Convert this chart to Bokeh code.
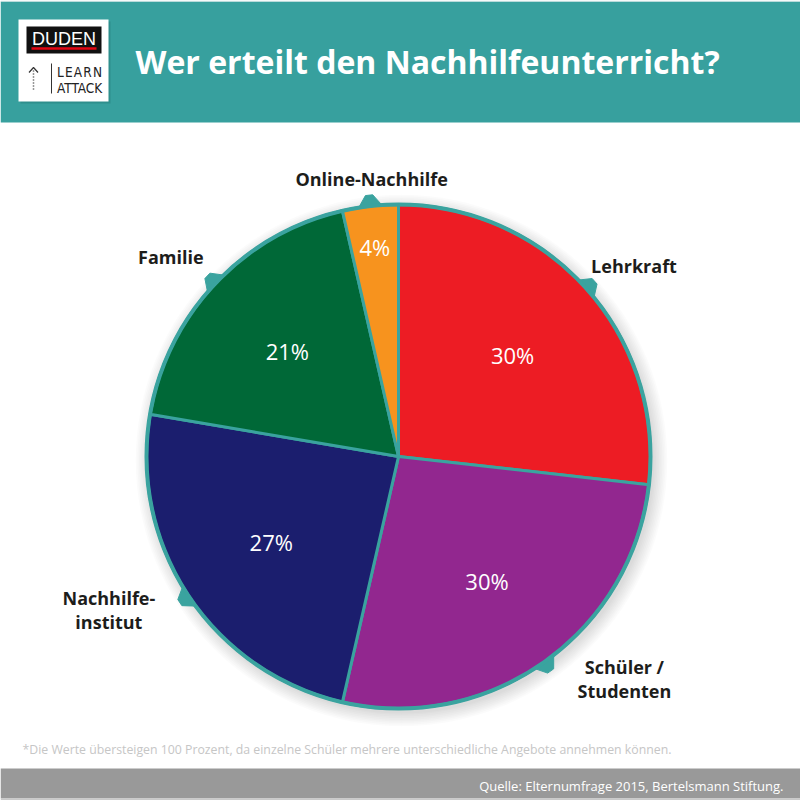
import numpy as np
from bokeh.plotting import figure
from bokeh.models import Range1d, ColumnDataSource
from bokeh.core.properties import value
from bokeh.embed import file_html
from bokeh.resources import INLINE

# ---- data -------------------------------------------------------------
categories = ["Lehrkraft", "Schüler /\nStudenten", "Nachhilfe-\ninstitut", "Familie", "Online-Nachhilfe"]
values = [30, 30, 27, 21, 4]
colors = ["#ED1C24", "#92278F", "#1B1E6E", "#006837", "#F7931E"]

title = "Wer erteilt den Nachhilfeunterricht?"
footnote = ("*Die Werte übersteigen 100 Prozent, da einzelne Schüler mehrere "
            "unterschiedliche Angebote annehmen können.")
source_note = "Quelle: Elternumfrage 2015, Bertelsmann Stiftung."

# ---- layout -----------------------------------------------------------
W = H = 800
TEAL = "#37A09E"
RING = "#3AA39F"


def sy(v):
    """top-down pixel row -> data y"""
    return H - v


CX, CY, R = 398, sy(456), 252
label_r = [303, 317, 328, 303, 279]          # distance of the category labels
label_nudge = [-2.8, 10.1, -5.75, 2.1, -0.9]  # small angular shifts (degrees)

total = sum(values)
cum = np.cumsum([0] + values)
start = np.pi / 2 - 2 * np.pi * cum[:-1] / total
end = np.pi / 2 - 2 * np.pi * cum[1:] / total
mid = (start + end) / 2
share = np.array(values) / total

pie = ColumnDataSource(dict(start=start, end=end, color=colors))

pr = np.where(share > 0.1, 153, 211)
pct = ColumnDataSource(dict(
    x=CX + pr * np.cos(mid), y=CY + pr * np.sin(mid),
    text=[f"{v}%" for v in values]))

la = mid + np.radians(label_nudge)
lbl = ColumnDataSource(dict(
    x=CX + np.array(label_r) * np.cos(la), y=CY + np.array(label_r) * np.sin(la),
    text=categories))

# small tabs on the rim pointing at each label
tab_xs, tab_ys = [], []
d = np.radians(3.2)
for m in mid:
    angs = [m - d, m - d * 0.25, m + d * 0.25, m + d]
    rads = [R - 3, R + 11, R + 11, R - 3]
    tab_xs.append([CX + r * np.cos(a) for r, a in zip(rads, angs)])
    tab_ys.append([CY + r * np.sin(a) for r, a in zip(rads, angs)])

p = figure(width=W, height=H, x_range=Range1d(0, W), y_range=Range1d(0, H),
           x_axis_type=None, y_axis_type=None, toolbar_location=None,
           output_backend="svg", min_border=0, outline_line_color=None,
           background_fill_color="white", border_fill_color="white")
p.grid.visible = False

# ---- header -----------------------------------------------------------
p.quad(left=0, right=W, bottom=sy(122), top=sy(1), fill_color=TEAL, line_color=None)
p.quad(left=0, right=W, bottom=sy(1), top=H, fill_color="#d8e8e8", line_color=None)

# logo
p.quad(left=20, right=110, bottom=sy(103), top=sy(21), fill_color="#1f6f6e",
       fill_alpha=0.35, line_color=None)
p.quad(left=18, right=108, bottom=sy(101), top=sy(19), fill_color="white", line_color=None)
p.quad(left=26, right=101, bottom=sy(53), top=sy(26), fill_color="#111111", line_color=None)
p.segment(x0=31, y0=sy(48), x1=96, y1=sy(48), line_color="#E30613", line_width=2.5)
p.text(x=[63.5], y=[sy(38)], text=["DUDEN"], text_color="white",
       text_font=value("Liberation Sans"), text_font_size="18px",
       text_align="center", text_baseline="middle")
p.segment(x0=51, y0=sy(63), x1=51, y1=sy(93), line_color="#333333", line_width=1)
p.segment(x0=33, y0=sy(70), x1=33, y1=sy(91), line_color="#333333",
          line_width=1.5, line_dash="1 2")
p.line(x=[28.5, 33, 37.5], y=[sy(72), sy(67), sy(72)], line_color="#333333", line_width=1.2)
p.text(x=[56.5, 56.5], y=[sy(71), sy(87)],
       text=["L\u200aE\u200aA\u200aR\u200aN", "ATTACK"], text_color="#222222",
       text_font=value("'Liberation Sans Narrow', 'DejaVu Sans Condensed', sans-serif"),
       text_font_size="13.5px", text_align="left", text_baseline="middle")

p.text(x=[135], y=[sy(61)], text=[title], text_color="white",
       text_font=value("Open Sans"), text_font_style="bold", text_font_size="32px",
       text_align="left", text_baseline="middle")

# ---- pie --------------------------------------------------------------
for k in range(9):
    p.circle(x=CX + 3, y=CY - 4, radius=R + 1 + 1.6 * k, fill_color="black",
             fill_alpha=0.016, line_color=None)

p.patches(xs=tab_xs, ys=tab_ys, fill_color=RING, line_color=RING, line_width=1)
p.wedge(x=CX, y=CY, radius=R, start_angle="start", end_angle="end", direction="clock",
        fill_color="color", line_color=RING, line_width=3, source=pie)
p.circle(x=CX, y=CY, radius=R, fill_color=None, line_color=RING, line_width=4)

p.text(x="x", y="y", text="text", source=pct, text_color="white",
       text_font=value("Open Sans"), text_font_size="22px",
       text_align="center", text_baseline="middle")
p.text(x="x", y="y", text="text", source=lbl, text_color="#1d1d1b",
       text_font=value("Open Sans"), text_font_style="bold", text_font_size="18px",
       text_align="center", text_baseline="middle", text_line_height=1.0)

# ---- footnote and footer ------------------------------------------------
p.text(x=[22], y=[sy(749)], text=[footnote], text_color="#c6c6c6",
       text_font=value("Open Sans"), text_font_size="12.3px",
       text_align="left", text_baseline="middle")
p.quad(left=0, right=W, bottom=sy(798), top=sy(768), fill_color="#999999", line_color=None)
p.quad(left=0, right=W, bottom=0, top=sy(798), fill_color="#c9c9c9", line_color=None)
p.text(x=[783], y=[sy(785)], text=[source_note], text_color="white",
       text_font=value("Open Sans"), text_font_size="13px",
       text_align="right", text_baseline="middle")

open("out.html", "w").write(file_html(p, INLINE))
